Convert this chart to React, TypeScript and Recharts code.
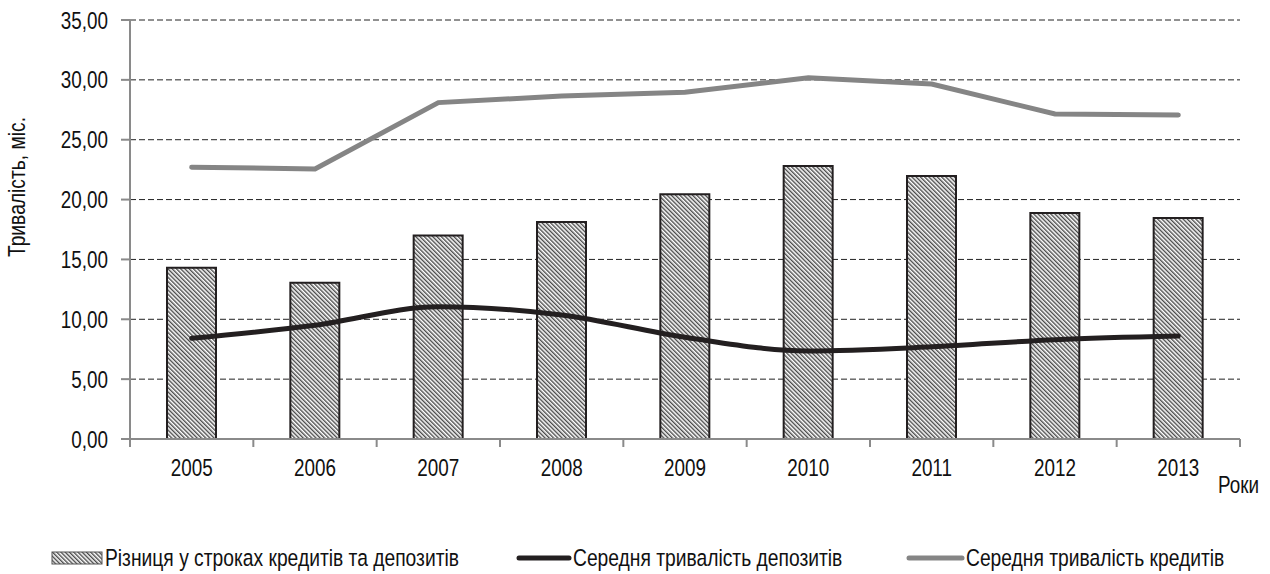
import {
  ComposedChart,
  Bar,
  Line,
  XAxis,
  YAxis,
  CartesianGrid,
} from "recharts";

const years = ["2005", "2006", "2007", "2008", "2009", "2010", "2011", "2012", "2013"];
const gapValues = [14.31, 13.06, 17.0, 18.13, 20.44, 22.8, 21.97, 18.88, 18.46];
const depositValues = [8.41, 9.5, 11.05, 10.36, 8.5, 7.35, 7.7, 8.3, 8.6];
const creditValues = [22.7, 22.56, 28.1, 28.65, 28.96, 30.18, 29.65, 27.15, 27.07];
const yTicks = [0, 5, 10, 15, 20, 25, 30, 35];

const gapName = "Різниця у строках кредитів та депозитів";
const depositName = "Середня тривалість депозитів";
const creditName = "Середня тривалість кредитів";

const data = years.map((year, i) => ({
  year,
  gap: gapValues[i],
  deposit: depositValues[i],
  credit: creditValues[i],
}));

const FONT = "'Liberation Sans', Arial, sans-serif";
const PLOT_LEFT = 130;
const PLOT_RIGHT = 1240;
const BAND = (PLOT_RIGHT - PLOT_LEFT) / years.length;
const AXIS = "#8a8a8a";

const fmt = (v: number) => v.toFixed(2).replace(".", ",");

// Arial Narrow look-alike: regular sans squeezed horizontally
function Narrow({ x, y, anchor = "start", size = 23, rotate = 0, children }: any) {
  return (
    <text
      transform={`translate(${x},${y}) rotate(${rotate}) scale(0.82,1)`}
      textAnchor={anchor}
      fontSize={size}
      fontFamily={FONT}
      fill="#111"
    >
      {children}
    </text>
  );
}

// Excel-style category axis: tick marks sit between categories
function YearTick(props: any) {
  const { x, y, payload, index } = props;
  const last = index === years.length - 1;
  return (
    <g>
      <line x1={x - BAND / 2} x2={x - BAND / 2} y1={y - 8} y2={y} stroke={AXIS} strokeWidth={2} />
      {last && (
        <line x1={x + BAND / 2} x2={x + BAND / 2} y1={y - 8} y2={y} stroke={AXIS} strokeWidth={2} />
      )}
      <Narrow x={x} y={476} anchor="middle">
        {payload.value}
      </Narrow>
    </g>
  );
}

function ValueTick(props: any) {
  const { y, payload } = props;
  return (
    <g>
      <line x1={121} x2={130} y1={y} y2={y} stroke={AXIS} strokeWidth={2} />
      <Narrow x={108} y={y + 8.5} anchor="end">
        {fmt(payload.value)}
      </Narrow>
    </g>
  );
}

function LegendRow() {
  const y = 566;
  return (
    <svg width={1270} height={574} style={{ position: "absolute", left: 0, top: 0, pointerEvents: "none" }}>
      <defs>
        <pattern id="hatch2" patternUnits="userSpaceOnUse" width={3} height={3} patternTransform="rotate(-45)">
          <rect x={0} y={0} width={3} height={3} fill="#fff" />
          <rect x={0} y={0} width={1.4} height={3} fill="#4a4a4a" />
        </pattern>
      </defs>
      <rect x={52} y={y - 14} width={50} height={12} fill="url(#hatch2)" stroke="#555" strokeWidth={1} />
      <Narrow x={105} y={y} size={23.5}>{gapName}</Narrow>
      <line x1={519} x2={569} y1={y - 8} y2={y - 8} stroke="#231f20" strokeWidth={5} strokeLinecap="round" />
      <Narrow x={573} y={y} size={23.5}>{depositName}</Narrow>
      <line x1={909} x2={962} y1={y - 8} y2={y - 8} stroke="#858585" strokeWidth={5} strokeLinecap="round" />
      <Narrow x={966} y={y} size={23.5}>{creditName}</Narrow>
    </svg>
  );
}

export default function App() {
  return (
    <div style={{ position: "absolute", left: 0, top: 0, width: 1270, height: 574, background: "#fff" }}>
      <ComposedChart
        width={1270}
        height={574}
        data={data}
        margin={{ top: 20, right: 1270 - PLOT_RIGHT, bottom: 105, left: 0 }}
        barCategoryGap="30%"
      >
        <defs>
          <pattern id="hatch" patternUnits="userSpaceOnUse" width={3} height={3} patternTransform="rotate(-45)">
            <rect x={0} y={0} width={3} height={3} fill="#fff" />
            <rect x={0} y={0} width={1.4} height={3} fill="#4a4a4a" />
          </pattern>
        </defs>
        <CartesianGrid vertical={false} stroke="#222" strokeDasharray="6 3" strokeWidth={1} />
        <XAxis
          dataKey="year"
          height={30}
          axisLine={{ stroke: AXIS, strokeWidth: 2 }}
          tickLine={false}
          tick={<YearTick />}
          interval={0}
          label={{
            content: () => <Narrow x={1218} y={493}>Роки</Narrow>,
          }}
        />
        <YAxis
          width={PLOT_LEFT}
          domain={[0, 35]}
          ticks={yTicks}
          interval={0}
          axisLine={{ stroke: AXIS, strokeWidth: 2 }}
          tickLine={false}
          tick={<ValueTick />}
          label={{
            content: () => (
              <Narrow x={25} y={187} anchor="middle" rotate={-90} size={23.5}>
                Тривалість, міс.
              </Narrow>
            ),
          }}
        />
        <Bar
          dataKey="gap"
          name={gapName}
          fill="url(#hatch)"
          stroke="#231f20"
          strokeWidth={2}
          isAnimationActive={false}
        />
        <Line
          dataKey="deposit"
          name={depositName}
          type="monotone"
          stroke="#231f20"
          strokeWidth={5}
          dot={false}
          strokeLinecap="round"
          isAnimationActive={false}
        />
        <Line
          dataKey="credit"
          name={creditName}
          type="linear"
          stroke="#858585"
          strokeWidth={5}
          dot={false}
          strokeLinecap="round"
          isAnimationActive={false}
        />
      </ComposedChart>
      <LegendRow />
    </div>
  );
}
